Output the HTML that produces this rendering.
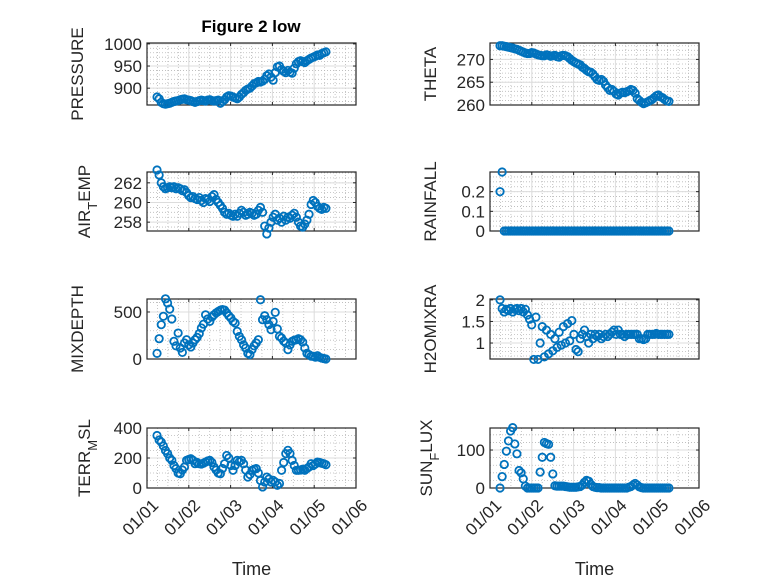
<!DOCTYPE html>
<html><head><meta charset="utf-8"><style>
body{margin:0;background:#fff;}
svg{display:block;font-family:"Liberation Sans","DejaVu Sans",sans-serif;}
</style></head><body>
<svg id="fig" width="778" height="583" viewBox="0 0 778 583" xmlns="http://www.w3.org/2000/svg">
<rect width="778" height="583" fill="#fff"/>
<text x="251" y="32" font-size="17" font-weight="bold" text-anchor="middle" fill="#000">Figure 2 low</text>
</svg>
<script>
const tStart = 0.24, tStep = 0.0505;
const xTickLabels = ["01/01","01/02","01/03","01/04","01/05","01/06"];
const pressure = [880,876,868,865,864,865,866,868,870,871,872,874,875,876,874,873,872,870,868,870,872,873,872,871,873,874,872,871,872,873,866,870,874,880,883,882,880,878,876,880,886,890,895,898,900,905,910,912,915,914,916,920,928,932,925,918,935,948,950,942,938,935,940,936,934,945,955,960,962,960,958,962,965,968,970,972,975,974,978,980,982];
const theta = [273,273,272.9,272.8,272.7,272.6,272.5,272.3,272.2,272,271.8,271.6,271.4,271.3,271.3,271.5,271.4,271.2,271,270.9,270.8,270.8,271,270.9,270.7,270.8,270.9,270.6,270.5,270.8,270.9,270.8,270.6,270.2,269.8,269.5,269.2,269,268.8,268.3,268,267.6,267.3,267.2,266.8,266.2,265.6,265.4,265.6,265.2,264.4,263.8,263.2,263.4,263,262.4,262.2,262.6,262.8,262.7,262.9,263.1,263.4,263.2,262.6,261.4,261,260.6,260.3,260.5,260.7,261,261.2,261.6,262,262.2,261.8,261.6,261.2,260.9,260.8];
const airTemp = [263.3,262.8,262,261.6,261.4,261.5,261.6,261.5,261.6,261.4,261.5,261.4,261.2,261.3,261.0,260.7,260.5,260.6,260.4,260.3,260.5,260.2,260.0,260.4,260.3,260.1,260.6,260.8,260.3,260.0,259.7,259.4,259.0,258.8,258.9,258.7,258.6,258.8,258.6,258.9,259.2,259.0,258.7,258.8,259.0,258.9,258.7,258.8,259.2,259.5,259.0,257.6,256.8,257.4,258.0,258.5,258.8,258.2,258.4,258.0,258.6,258.2,258.5,258.4,258.7,258.9,258.5,258.0,257.6,257.5,257.8,258.2,258.8,259.8,260.2,260.0,259.6,259.4,259.3,259.5,259.4];
const rainfall = [0.2,0.3,0,0,0,0,0,0,0,0,0,0,0,0,0,0,0,0,0,0,0,0,0,0,0,0,0,0,0,0,0,0,0,0,0,0,0,0,0,0,0,0,0,0,0,0,0,0,0,0,0,0,0,0,0,0,0,0,0,0,0,0,0,0,0,0,0,0,0,0,0,0,0,0,0,0,0,0,0,0,0];
const mixDepth = [60,216,365,454,640,596,530,425,188,140,276,117,70,170,205,150,128,170,205,230,270,330,370,470,425,400,447,470,490,505,518,525,520,490,460,436,400,383,294,240,205,150,117,60,46,100,140,170,205,630,418,460,418,365,312,400,496,320,241,223,190,170,100,150,188,200,205,215,205,180,117,60,46,30,28,20,35,18,10,5,0];
const h2oMix = [2.0,1.8,1.72,1.78,1.75,1.8,1.72,1.78,1.8,1.75,1.8,1.72,1.78,1.65,1.55,1.42,0.62,1.6,0.62,1.0,1.38,0.68,1.3,0.75,1.2,0.82,1.1,0.9,1.25,0.95,1.38,1.0,1.45,1.05,1.52,1.2,0.85,0.8,1.1,1.2,1.3,1.15,1.0,1.2,1.1,1.2,1.15,1.2,1.1,1.15,1.2,1.15,1.2,1.25,1.3,1.2,1.3,1.2,1.2,1.15,1.2,1.2,1.2,1.2,1.2,1.2,1.1,1.1,1.08,1.1,1.2,1.2,1.2,1.2,1.22,1.2,1.2,1.2,1.2,1.2,1.2];
const terrMsl = [350,320,306,280,250,229,200,184,150,129,100,95,120,140,184,190,195,185,162,170,162,160,165,173,180,184,170,140,120,100,95,130,162,217,200,150,118,150,184,175,184,162,120,73,90,118,125,129,100,50,7,40,73,60,40,51,40,18,30,118,170,229,251,230,184,150,118,118,120,125,118,130,140,162,150,160,173,170,165,162,155];
const sunFlux = [0,30,62,97,124,150,159,116,90,46,40,24,5,0,0,0,0,0,0,42,81,120,117,115,81,37,6,5,5,5,5,4,3,2,2,2,2,3,4,8,15,20,18,10,4,2,1,1,0,0,0,0,0,0,0,0,0,0,0,0,0,2,4,8,12,8,3,1,0,0,0,0,0,0,0,0,0,0,0,0,0];
const pressureTicks=[900,950,1000], thetaTicks=[260,265,270], airTicks=[258,260,262], rainTicks=[0,0.1,0.2], mixTicks=[0,500], h2oTicks=[1,1.5,2], terrTicks=[0,200,400], sunTicks=[0,100];

const NS="http://www.w3.org/2000/svg";
const svg=document.getElementById('fig');
function mk(tag,attrs,parent){const e=document.createElementNS(NS,tag);for(const k in attrs)e.setAttribute(k,attrs[k]);(parent||svg).appendChild(e);return e;}

const panels=[
 {key:'pressure',data:pressure,ticks:pressureTicks,ymin:862,ymax:1002,minor:10,col:0,row:0,label:['PRESSURE']},
 {key:'theta',data:theta,ticks:thetaTicks,ymin:260,ymax:273.6,minor:1,col:1,row:0,label:['THETA']},
 {key:'air-temp',data:airTemp,ticks:airTicks,ymin:257.1,ymax:263.1,minor:0.5,col:0,row:1,label:['AIR','T','EMP']},
 {key:'rainfall',data:rainfall,ticks:rainTicks,ymin:0,ymax:0.3,minor:0.025,col:1,row:1,label:['RAINFALL']},
 {key:'mixdepth',data:mixDepth,ticks:mixTicks,ymin:0,ymax:638,minor:100,col:0,row:2,label:['MIXDEPTH']},
 {key:'h2omixra',data:h2oMix,ticks:h2oTicks,ymin:0.63,ymax:2.02,minor:0.1,col:1,row:2,label:['H2OMIXRA']},
 {key:'terr-msl',data:terrMsl,ticks:terrTicks,ymin:0,ymax:400,minor:50,col:0,row:3,label:['TERR','M','SL']},
 {key:'sunflux',data:sunFlux,ticks:sunTicks,ymin:0,ymax:158,minor:20,col:1,row:3,label:['SUN','F','LUX']}
];
const colX=[[147,356],[490,699]], rowY=[[43,105],[172,231],[299,359],[428,488]];

panels.forEach(p=>{
 const [x0,x1]=colX[p.col],[y0,y1]=rowY[p.row];
 const xs=t=>x0+(t/5)*(x1-x0);
 const ys=v=>y1-(v-p.ymin)/(p.ymax-p.ymin)*(y1-y0);
 const g=mk('g',{});
 
 
 mk('rect',{x:x0,y:y0,width:x1-x0,height:y1-y0,fill:'#fff'},g);
 for(let t=0.25;t<5;t+=0.25){if(Math.abs(t-Math.round(t))<1e-6)continue;mk('line',{x1:xs(t),x2:xs(t),y1:y0,y2:y1,stroke:'#b8b8b8','stroke-width':0.8,'stroke-dasharray':'1,2'},g);}
 const m0=Math.ceil(p.ymin/p.minor)*p.minor;
 for(let v=m0;v<p.ymax;v+=p.minor){mk('line',{x1:x0,x2:x1,y1:ys(v),y2:ys(v),stroke:'#b8b8b8','stroke-width':0.8,'stroke-dasharray':'1,2'},g);}
 for(let t=1;t<5;t++)mk('line',{x1:xs(t),x2:xs(t),y1:y0,y2:y1,stroke:'#dcdcdc','stroke-width':1},g);
 p.ticks.forEach(v=>{const y=ys(v);mk('line',{x1:x0,x2:x1,y1:y,y2:y,stroke:'#dcdcdc','stroke-width':1},g);
   mk('line',{x1:x0,x2:x0+3,y1:y,y2:y,stroke:'#262626'},g);mk('line',{x1:x1,x2:x1-3,y1:y,y2:y,stroke:'#262626'},g);
   const tl=mk('text',{x:x0-5,y:y+6,'font-size':17,'text-anchor':'end',fill:'#262626'},g);tl.textContent=String(v);
   
   });
 for(let t=0;t<=5;t++){mk('line',{x1:xs(t),x2:xs(t),y1:y1,y2:y1-3,stroke:'#262626'},g);mk('line',{x1:xs(t),x2:xs(t),y1:y0,y2:y0+3,stroke:'#262626'},g);}
 mk('rect',{x:x0,y:y0,width:x1-x0,height:y1-y0,fill:'none',stroke:'#262626','stroke-width':1.2},g);
 const lx=p.col===0?(p.label.length>1?90:83):(p.label.length>1?432:436);
 const lbl=mk('text',{transform:`translate(${lx},${(y0+y1)/2}) rotate(-90)`,'font-size':17,'text-anchor':'middle',fill:'#262626'},g);
 
 
 if(p.label.length===1){lbl.textContent=p.label[0];}
 else{const a=mk('tspan',{},lbl);a.textContent=p.label[0];const b=mk('tspan',{'font-size':13,dy:7},lbl);b.textContent=p.label[1];const c=mk('tspan',{dy:-7},lbl);c.textContent=p.label[2];}
 p.data.forEach((v,i)=>{const c=mk('circle',{cx:xs(tStart+i*tStep),cy:ys(v),r:3.7,fill:'none',stroke:'#0072BD','stroke-width':1.8},g);
   
   });
 if(p.row===3){
   xTickLabels.forEach((s,t)=>{const tx=mk('text',{transform:`translate(${xs(t)+4},${y1+10}) rotate(-45)`,'font-size':17,'text-anchor':'end',dy:'0.7em',fill:'#262626'},g);tx.textContent=s;
     
     });
   const xt=mk('text',{x:(x0+x1)/2,y:575,'font-size':18,'text-anchor':'middle',fill:'#262626'},g);xt.textContent='Time';
   
   
 }
});
</script>
</body></html>
